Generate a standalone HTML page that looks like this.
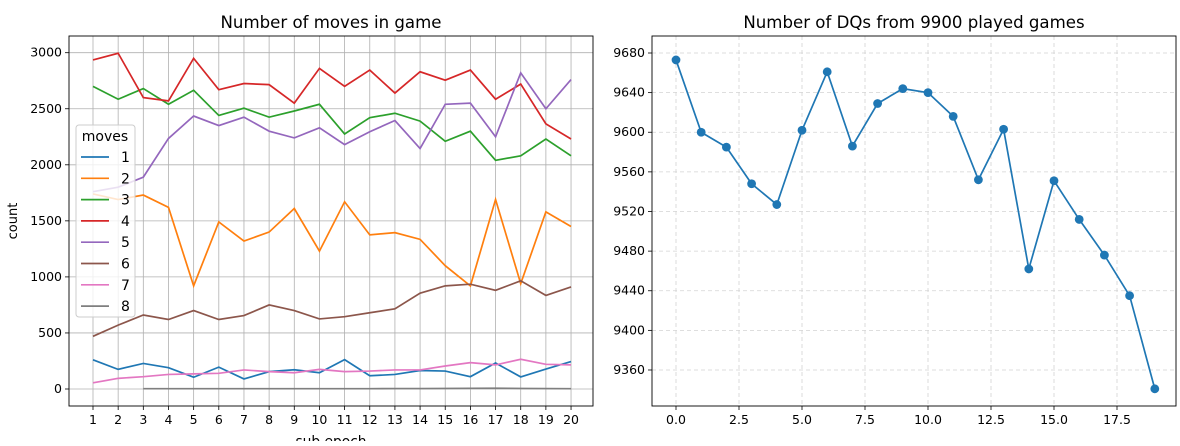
<!DOCTYPE html>
<html><head><meta charset="utf-8"><style>
body{margin:0;background:#fff}
svg{font-family:"DejaVu Sans","Liberation Sans",sans-serif}
</style></head><body>
<svg width="1180" height="441" viewBox="0 0 1180 441" xmlns="http://www.w3.org/2000/svg">
<rect width="1180" height="441" fill="#fff"/>
<g id="L"></g>
<g id="R"></g>
</svg>
<script>
const NS="http://www.w3.org/2000/svg";
function el(p,t,a,txt){const e=document.createElementNS(NS,t);for(const k in a)e.setAttribute(k,a[k]);if(txt!==undefined)e.textContent=txt;p.appendChild(e);return e;}
const L=document.getElementById('L');
const lx0=69,lx1=593,ly0=36,ly1=406;
const X=i=>93+(i-1)*25.16, Y=v=>389-v*0.1121;
for(let i=1;i<=20;i++){el(L,'line',{x1:X(i),x2:X(i),y1:ly0,y2:ly1,stroke:'#b0b0b0','stroke-width':0.8});
 el(L,'line',{x1:X(i),x2:X(i),y1:ly1,y2:ly1+4,stroke:'#000','stroke-width':0.8});
 el(L,'text',{x:X(i),y:ly1+18,'font-size':12.5,'text-anchor':'middle'},i);}
for(let v=0;v<=3000;v+=500){el(L,'line',{x1:lx0,x2:lx1,y1:Y(v),y2:Y(v),stroke:'#b0b0b0','stroke-width':0.8});
 el(L,'line',{x1:lx0-4,x2:lx0,y1:Y(v),y2:Y(v),stroke:'#000','stroke-width':0.8});
 el(L,'text',{x:lx0-7,y:Y(v)+4,'font-size':12.5,'text-anchor':'end'},v);}
const S=[
['#1f77b4',[260,175,228,190,105,195,90,155,172,145,262,118,130,165,160,110,232,108,178,245],1],
['#ff7f0e',[1740,1690,1730,1620,920,1490,1320,1400,1610,1230,1670,1375,1395,1335,1100,920,1690,940,1580,1450],1],
['#2ca02c',[2700,2585,2680,2540,2665,2440,2505,2425,2480,2540,2275,2420,2460,2390,2210,2300,2040,2080,2230,2080],1],
['#d62728',[2935,2995,2600,2570,2950,2670,2725,2715,2550,2860,2700,2845,2640,2830,2755,2845,2585,2720,2365,2230],1],
['#9467bd',[1760,1800,1890,2235,2435,2350,2425,2300,2240,2330,2180,2295,2395,2145,2540,2550,2250,2820,2500,2760],1],
['#8c564b',[470,570,660,620,700,620,655,750,700,625,645,680,715,855,920,935,880,965,835,910],1],
['#e377c2',[55,95,110,130,135,140,170,155,145,175,155,160,170,170,205,235,215,265,220,215],1],
['#7f7f7f',[3,3,3,3,3,3,3,3,3,3,4,4,5,6,7,5,4,3],3]];
for(const [c,d,s] of S){el(L,'polyline',{points:d.map((v,i)=>X(i+s)+','+Y(v)).join(' '),fill:'none',stroke:c,'stroke-width':1.7});}
el(L,'rect',{x:lx0,y:ly0,width:lx1-lx0,height:ly1-ly0,fill:'none',stroke:'#000','stroke-width':0.9});
el(L,'text',{x:(lx0+lx1)/2,y:28,'font-size':16.6,'text-anchor':'middle'},'Number of moves in game');
el(L,'text',{x:(lx0+lx1)/2,y:446,'font-size':13.8,'text-anchor':'middle'},'sub epoch');
el(L,'text',{x:17,y:221,'font-size':13,'text-anchor':'middle',transform:'rotate(-90 17 221)'},'count');
el(L,'rect',{x:76,y:125,width:59,height:192,rx:3,fill:'#fff','fill-opacity':0.8,stroke:'#ccc'});
el(L,'text',{x:105,y:141,'font-size':14,'text-anchor':'middle'},'moves');
S.forEach(([c],i)=>{const y=157+i*21.3;el(L,'line',{x1:81,x2:109,y1:y,y2:y,stroke:c,'stroke-width':1.7});el(L,'text',{x:121,y:y+5,'font-size':14},i+1);});
const R=document.getElementById('R');
const rx0=652,rx1=1176,ry0=36,ry1=406;
const RX=i=>676+i*25.2, RY=v=>53+(9680-v)*0.9906;
for(let t=0;t<=17.5;t+=2.5){el(R,'line',{x1:RX(t),x2:RX(t),y1:ry0,y2:ry1,stroke:'#d3d3d3','stroke-width':0.8,'stroke-dasharray':'4,3'});
 el(R,'line',{x1:RX(t),x2:RX(t),y1:ry1,y2:ry1+4,stroke:'#000','stroke-width':0.8});
 el(R,'text',{x:RX(t),y:ry1+18,'font-size':12.5,'text-anchor':'middle'},t.toFixed(1));}
for(let v=9360;v<=9680;v+=40){el(R,'line',{x1:rx0,x2:rx1,y1:RY(v),y2:RY(v),stroke:'#d3d3d3','stroke-width':0.8,'stroke-dasharray':'4,3'});
 el(R,'line',{x1:rx0-4,x2:rx0,y1:RY(v),y2:RY(v),stroke:'#000','stroke-width':0.8});
 el(R,'text',{x:rx0-7,y:RY(v)+4,'font-size':12.5,'text-anchor':'end'},v);}
const D=[9673,9600,9585,9548,9527,9602,9661,9586,9629,9644,9640,9616,9552,9603,9462,9551,9512,9476,9435,9341];
el(R,'polyline',{points:D.map((v,i)=>RX(i)+','+RY(v)).join(' '),fill:'none',stroke:'#1f77b4','stroke-width':1.7});
D.forEach((v,i)=>el(R,'circle',{cx:RX(i),cy:RY(v),r:4.4,fill:'#1f77b4'}));
el(R,'rect',{x:rx0,y:ry0,width:rx1-rx0,height:ry1-ry0,fill:'none',stroke:'#000','stroke-width':0.9});
el(R,'text',{x:(rx0+rx1)/2,y:28,'font-size':16.6,'text-anchor':'middle'},'Number of DQs from 9900 played games');
</script>
</body></html>
